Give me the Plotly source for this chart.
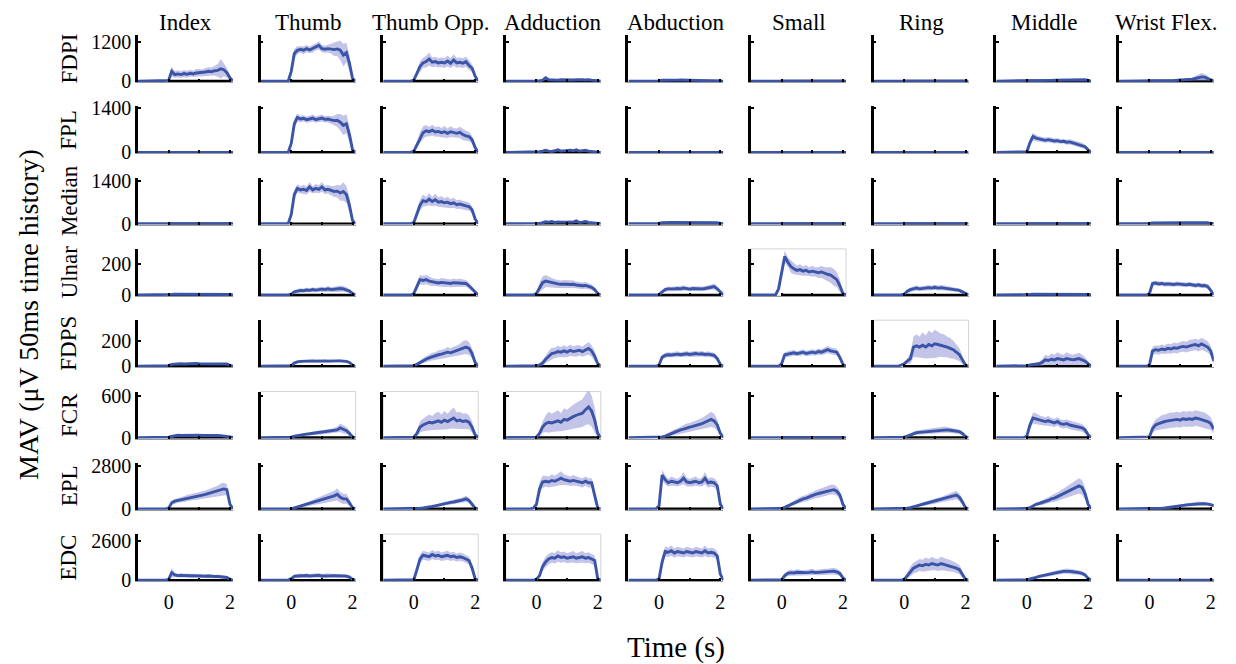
import plotly.graph_objects as go

# ---------------- data ----------------
T = [-1.0, -0.2, -0.1,
     0.0, 0.1, 0.2, 0.3, 0.4, 0.5, 0.6, 0.7, 0.8, 0.9,
     1.0, 1.1, 1.2, 1.3, 1.4, 1.5, 1.6, 1.7, 1.8, 1.9,
     2.0, 2.1]
MOVE_PERIOD = [0, 2]
COLUMNS = ["Index", "Thumb", "Thumb Opp.", "Adduction", "Abduction",
           "Small", "Ring", "Middle", "Wrist Flex."]
ROWS = ["FDPI", "FPL", "Median", "Ulnar", "FDPS", "FCR", "EPL", "EDC"]
Y_TICK = [1200, 1400, 1400, 200, 200, 600, 2800, 2600]
Y_MAX = [1420, 1450, 1500, 300, 360, 660, 3000, 3050]
X_TICKS = [0, 1, 2]
X_TICKTEXT = ["0", "", "2"]
BOXED = [(3, 5), (4, 6), (5, 1), (5, 2), (5, 3), (7, 2), (7, 3)]

FDPI_MEAN = [
    [0,0,0, 20,300,200,220,200,230,210,240,220,250, 260,250,280,300,290,320,330,380,350,260, 100,0],
    [0,0,0, 300,850,950,980,950,1000,960,1000,1050,1100, 1000,980,1000,990,970,990,950,800,880,550, 80,0],
    [0,0,0, 30,250,450,560,600,680,580,600,560,580, 560,620,550,650,560,580,550,600,480,400, 150,0],
    [0,0,0, 0,0,30,100,40,30,40,30,40,35, 40,30,35,40,30,40,35,45,30,25, 10,0],
    [0,0,0, 5,25,30,30,28,30,30,32,30,30, 32,30,30,30,30,32,30,30,28,25, 10,0],
    [0,0,0, 3,10,12,12,13,12,12,13,12,12, 13,12,12,13,12,12,13,12,12,10, 5,0],
    [0,0,0, 3,12,13,12,12,13,12,12,13,12, 12,13,12,12,13,12,12,13,12,10, 5,0],
    [0,0,0, 5,15,15,18,18,20,20,22,22,25, 25,28,28,30,30,32,35,40,45,40, 20,0],
    [0,0,0, 5,15,15,15,18,18,20,20,20,25, 30,25,30,40,60,80,100,130,120,90, 40,0],
]
FDPI_SD = [
    [0,0,0, 10,150,100,110,100,110,100,110,100,120, 110,110,120,130,130,150,200,300,200,150, 60,0],
    [0,0,0, 100,150,120,100,120,110,100,120,110,130, 110,110,120,150,200,220,300,350,300,250, 80,0],
    [0,0,0, 20,100,150,150,180,200,150,150,140,150, 150,170,150,180,150,150,150,160,140,120, 70,0],
    [0,0,0, 0,0,20,60,25,20,20,20,20,20, 20,20,20,20,20,20,20,20,20,15, 10,0],
    [0,0,0, 3,10,10,10,10,10,10,10,10,10, 10,10,10,10,10,10,10,10,10,10, 5,0],
    [0,0,0, 2,5,5,5,5,5,5,5,5,5, 5,5,5,5,5,5,5,5,5,5, 3,0],
    [0,0,0, 2,5,5,5,5,5,5,5,5,5, 5,5,5,5,5,5,5,5,5,5, 3,0],
    [0,0,0, 3,8,8,10,10,10,10,10,12,12, 12,14,14,15,15,18,20,25,30,25, 12,0],
    [0,0,0, 3,8,8,8,10,10,10,10,10,12, 15,12,15,25,50,80,100,120,100,70, 30,0],
]
FPL_MEAN = [
    [0,0,0, 5,15,18,18,18,20,18,20,18,20, 20,20,20,20,20,20,20,20,20,18, 10,0],
    [0,0,0, 280,900,1100,1050,1070,1030,1050,1080,1030,1060, 1080,1040,1050,1020,1000,1010,950,850,900,560, 80,0],
    [0,0,0, 40,250,450,620,680,650,700,640,660,620, 650,600,650,620,600,630,560,520,500,400, 150,0],
    [0,0,0, 5,20,40,70,40,30,50,80,40,50, 40,70,50,80,40,50,70,40,30,25, 10,0],
    [0,0,0, 5,18,20,20,22,20,20,22,20,20, 22,20,20,22,20,20,22,20,20,18, 8,0],
    [0,0,0, 3,10,12,12,13,12,12,13,12,12, 13,12,12,13,12,12,13,12,12,10, 5,0],
    [0,0,0, 3,12,13,12,12,13,12,12,13,12, 12,13,12,12,13,12,12,13,12,10, 5,0],
    [0,0,0, 20,300,500,450,420,400,380,400,380,360, 370,340,350,320,330,300,290,250,220,180, 80,0],
    [0,0,0, 3,8,10,10,10,10,10,10,10,10, 10,10,10,10,10,10,10,10,10,10, 5,0],
]
FPL_SD = [
    [0,0,0, 3,8,8,8,8,8,8,8,8,8, 8,8,8,8,8,8,8,8,8,8, 5,0],
    [0,0,0, 100,150,120,100,100,100,100,110,100,110, 110,100,110,120,150,200,260,300,300,250, 80,0],
    [0,0,0, 20,100,180,200,180,150,170,150,160,150, 180,150,170,150,150,180,170,160,150,120, 60,0],
    [0,0,0, 3,10,20,35,20,15,25,40,20,25, 20,35,25,40,20,25,35,20,15,12, 5,0],
    [0,0,0, 3,8,8,8,8,8,8,8,8,8, 8,8,8,8,8,8,8,8,8,8, 4,0],
    [0,0,0, 2,5,5,5,5,5,5,5,5,5, 5,5,5,5,5,5,5,5,5,5, 3,0],
    [0,0,0, 2,5,5,5,5,5,5,5,5,5, 5,5,5,5,5,5,5,5,5,5, 3,0],
    [0,0,0, 10,80,120,100,90,90,80,80,80,80, 80,70,70,80,80,80,80,90,80,70, 40,0],
    [0,0,0, 2,4,4,4,4,4,4,4,4,4, 4,4,4,4,4,4,4,4,4,4, 2,0],
]
MEDIAN_MEAN = [
    [0,0,0, 5,12,15,15,15,15,15,15,15,15, 15,15,15,15,15,15,15,15,15,15, 8,0],
    [0,0,0, 300,950,1150,1100,1120,1080,1200,1100,1150,1120, 1200,1100,1120,1080,1050,1060,1000,1050,950,600, 100,0],
    [0,0,0, 40,300,600,750,720,800,720,780,700,720, 680,700,650,680,620,640,600,580,560,450, 150,0],
    [0,0,0, 0,10,30,60,50,70,40,60,50,40, 50,60,50,90,40,50,70,40,30,25, 10,0],
    [0,0,0, 5,30,40,40,42,40,40,45,40,42, 40,42,40,45,40,42,40,40,38,30, 10,0],
    [0,0,0, 3,10,12,12,13,12,12,13,12,12, 13,12,12,13,12,12,13,12,12,10, 5,0],
    [0,0,0, 3,12,13,12,12,13,12,12,13,12, 12,13,12,12,13,12,12,13,12,10, 5,0],
    [0,0,0, 5,15,18,18,20,20,20,20,20,20, 20,22,20,20,22,20,20,22,20,18, 10,0],
    [0,0,0, 5,25,28,30,30,30,32,30,30,32, 30,30,32,30,30,32,30,32,30,28, 12,0],
]
MEDIAN_SD = [
    [0,0,0, 3,6,6,6,6,6,6,6,6,6, 6,6,6,6,6,6,6,6,6,6, 4,0],
    [0,0,0, 100,150,130,120,150,130,160,120,140,130, 160,130,140,150,180,200,250,300,280,250, 80,0],
    [0,0,0, 20,120,180,200,150,200,150,200,150,180, 150,180,150,160,140,150,140,140,130,120, 60,0],
    [0,0,0, 0,5,15,30,25,35,20,30,25,20, 25,30,25,45,20,25,35,20,15,12, 5,0],
    [0,0,0, 3,12,12,12,12,12,12,12,12,12, 12,12,12,12,12,12,12,12,12,12, 5,0],
    [0,0,0, 2,5,5,5,5,5,5,5,5,5, 5,5,5,5,5,5,5,5,5,5, 3,0],
    [0,0,0, 2,5,5,5,5,5,5,5,5,5, 5,5,5,5,5,5,5,5,5,5, 3,0],
    [0,0,0, 3,8,8,8,8,8,8,8,8,8, 8,8,8,8,8,8,8,8,8,8, 4,0],
    [0,0,0, 3,10,10,10,10,10,10,10,10,10, 10,10,10,10,10,10,10,10,10,10, 5,0],
]
ULNAR_MEAN = [
    [0,0,0, 2,4,5,5,5,5,5,5,5,5, 5,5,5,5,5,5,5,5,5,5, 3,0],
    [0,0,0, 5,20,25,30,28,32,30,35,32,35, 38,35,40,35,38,40,42,40,35,25, 10,0],
    [0,0,0, 10,60,100,95,100,90,85,80,78,82, 80,78,75,80,78,80,78,75,60,40, 15,0],
    [0,0,0, 10,50,80,90,85,80,75,72,70,72, 70,68,70,65,62,60,62,58,50,35, 10,0],
    [0,0,0, 2,20,35,40,38,40,42,40,45,40, 38,42,40,42,40,42,45,50,55,40, 20,0],
    [0,0,40, 150,250,215,185,170,160,165,155,160,150, 155,150,145,150,140,135,130,115,100,60, 10,0],
    [0,0,0, 5,25,35,40,45,40,42,45,48,45, 50,45,48,45,42,40,38,35,30,20, 8,0],
    [0,0,0, 2,4,5,5,5,6,5,5,6,5, 5,6,5,5,6,5,5,6,5,5, 3,0],
    [0,0,0, 10,75,78,72,75,70,72,70,68,72, 70,68,66,70,65,62,66,60,62,55, 30,0],
]
ULNAR_SD = [
    [0,0,0, 1,2,2,2,2,2,2,2,2,2, 2,2,2,2,2,2,2,2,2,2, 1,0],
    [0,0,0, 3,10,12,14,12,15,14,16,14,16, 18,16,18,16,18,20,20,18,16,12, 5,0],
    [0,0,0, 5,25,30,30,30,28,25,25,25,28, 28,25,25,28,25,25,25,22,20,15, 8,0],
    [0,0,0, 5,30,40,40,35,30,28,26,25,25, 25,24,24,22,22,22,22,20,18,14, 5,0],
    [0,0,0, 2,10,14,15,14,15,15,15,16,15, 14,15,15,15,15,15,16,18,20,15, 8,0],
    [0,0,20, 40,40,30,40,35,30,35,30,35,30, 35,30,35,40,40,45,50,55,50,40, 15,0],
    [0,0,0, 3,12,14,15,16,15,15,16,17,16, 17,16,17,16,15,15,14,13,12,10, 4,0],
    [0,0,0, 1,2,2,2,2,2,2,2,2,2, 2,2,2,2,2,2,2,2,2,2, 1,0],
    [0,0,0, 5,15,15,15,15,15,15,15,15,15, 15,15,15,15,15,15,15,15,15,15, 10,0],
]
FDPS_MEAN = [
    [0,0,0, 5,15,18,20,20,18,20,20,20,22, 20,20,22,20,22,20,22,20,20,18, 8,0],
    [0,0,0, 5,25,35,38,40,38,40,42,40,42, 40,42,40,42,40,42,42,40,38,30, 10,0],
    [0,0,0, 5,15,30,45,55,65,75,80,90,95, 100,110,105,115,120,130,145,150,140,100, 30,0],
    [0,0,0, 5,10,25,55,80,100,105,115,110,120, 110,125,115,120,125,115,130,140,120,80, 20,0],
    [0,0,0, 10,70,85,90,88,92,95,90,95,98, 92,95,100,95,98,92,95,90,85,60, 15,0],
    [0,0,0, 20,90,95,100,105,98,105,110,100,105, 110,105,115,110,120,130,120,115,110,70, 15,0],
    [0,0,10, 20,40,60,150,160,150,165,150,170,160, 175,170,165,160,150,140,130,110,90,50, 10,0],
    [0,0,0, 5,10,12,15,20,30,50,45,55,50, 60,55,50,60,55,50,55,60,50,40, 20,0],
    [0,0,0, 10,120,130,125,135,130,140,135,145,140, 150,155,150,160,165,170,160,175,165,150, 120,40],
]
FDPS_SD = [
    [0,0,0, 3,6,6,6,6,6,6,6,6,6, 6,6,6,6,6,6,6,6,6,6, 4,0],
    [0,0,0, 3,10,10,10,10,10,10,10,10,10, 10,10,10,10,10,10,10,10,10,10, 5,0],
    [0,0,0, 5,10,15,20,25,25,30,30,35,35, 35,40,35,40,40,45,50,55,50,40, 20,0],
    [0,0,0, 5,10,20,30,40,45,40,45,40,45, 40,45,40,45,40,40,45,50,45,40, 20,0],
    [0,0,0, 5,18,20,20,20,22,22,20,22,22, 20,22,22,20,22,20,22,20,20,18, 8,0],
    [0,0,0, 10,20,22,22,22,20,22,24,22,22, 24,22,24,24,26,28,26,26,26,22, 8,0],
    [0,0,5, 10,20,40,80,90,80,100,90,110,100, 110,100,90,90,80,80,70,60,50,30, 10,0],
    [0,0,0, 5,5,8,10,15,25,40,35,45,40, 50,40,40,50,40,40,40,45,40,30, 15,0],
    [0,0,0, 5,30,35,35,35,35,38,38,40,40, 40,42,42,45,45,45,45,48,45,45, 40,20],
]
FCR_MEAN = [
    [0,0,0, 5,15,30,35,30,32,30,35,30,32, 35,30,32,30,32,30,30,28,25,20, 10,0],
    [0,0,0, 5,20,30,40,45,50,55,60,65,70, 75,80,85,90,100,110,140,120,100,60, 10,0],
    [0,0,0, 5,60,150,180,200,220,210,230,240,220, 250,230,260,280,240,250,230,240,220,150, 40,0],
    [0,0,0, 5,60,150,200,220,210,230,240,220,260, 250,280,300,320,330,350,400,440,380,250, 60,0],
    [0,0,0, 5,10,20,40,60,80,90,110,120,140, 150,160,170,190,200,220,240,260,240,180, 60,0],
    [0,0,0, 3,8,10,10,10,10,10,10,10,10, 10,10,10,10,10,10,10,10,10,8, 4,0],
    [0,0,0, 5,20,40,60,70,75,80,85,90,95, 100,105,110,115,110,105,100,95,85,60, 15,0],
    [0,0,0, 20,180,280,270,250,240,230,240,220,210, 230,200,190,200,180,170,160,150,140,110, 40,0],
    [0,0,0, 10,130,180,200,220,230,240,250,250,260, 250,270,260,270,260,280,270,260,250,230, 200,120],
]
FCR_SD = [
    [0,0,0, 3,8,12,15,12,12,12,12,12,12, 12,12,12,12,12,12,12,12,10,8, 5,0],
    [0,0,0, 5,10,15,15,20,20,25,25,25,30, 30,30,35,35,40,45,60,60,50,40, 10,0],
    [0,0,0, 5,40,80,90,100,110,100,120,130,110, 130,110,130,150,120,120,110,110,100,80, 30,0],
    [0,0,0, 5,40,80,120,150,130,140,150,130,160, 150,160,170,180,190,200,220,250,220,180, 50,0],
    [0,0,0, 5,8,15,25,35,40,45,50,55,60, 60,65,70,75,80,90,100,110,100,80, 30,0],
    [0,0,0, 2,4,4,4,4,4,4,4,4,4, 4,4,4,4,4,4,4,4,4,4, 2,0],
    [0,0,0, 5,10,20,25,30,30,32,32,35,35, 38,40,40,42,40,40,38,36,32,25, 8,0],
    [0,0,0, 10,60,80,80,70,70,60,70,60,60, 60,60,60,60,60,60,60,60,55,50, 20,0],
    [0,0,0, 10,60,80,90,100,100,110,110,110,110, 110,110,110,110,110,110,110,110,110,100, 90,60],
]
EPL_MEAN = [
    [0,0,0, 50,400,500,550,600,650,700,750,800,820, 850,900,950,1000,1050,1100,1150,1250,1300,1250, 300,0],
    [0,0,0, 10,60,120,160,200,280,350,420,480,550, 600,650,700,780,850,950,750,650,650,400, 80,0],
    [0,0,0, 20,30,40,60,80,120,160,200,250,300, 350,380,420,450,480,520,580,650,550,300, 50,0],
    [0,0,50, 300,1300,1750,1800,1750,1850,1800,1900,2000,1900, 1850,1800,1850,1800,1750,1700,1800,1700,1700,900, 50,0],
    [0,0,0, 200,2200,1900,1700,1800,1750,1700,1800,2000,1750, 1700,1750,1800,1700,1750,2000,1700,1750,1700,1500, 300,0],
    [0,0,0, 20,100,200,300,400,500,600,650,700,800, 850,950,1000,1050,1150,1200,1250,1250,1150,900, 300,0],
    [0,0,0, 10,40,80,150,200,250,300,350,400,450, 500,550,600,650,700,780,850,900,750,450, 80,0],
    [0,0,0, 20,80,200,300,350,400,500,550,650,700, 800,900,1000,1100,1200,1300,1400,1500,1400,1000, 300,0],
    [0,0,0, 10,20,25,30,40,60,80,100,130,160, 200,230,260,280,300,320,350,330,340,320, 280,200],
]
EPL_SD = [
    [0,0,0, 30,150,150,150,180,180,200,200,220,220, 220,250,250,280,300,330,350,400,400,350, 150,0],
    [0,0,0, 10,40,60,80,100,120,150,180,200,220, 230,250,270,300,330,400,350,330,320,250, 60,0],
    [0,0,0, 20,30,30,40,50,60,70,80,90,100, 110,120,130,140,150,160,180,200,180,120, 40,0],
    [0,0,30, 150,400,400,350,350,400,350,400,450,350, 350,300,350,300,300,300,300,300,300,400, 50,0],
    [0,0,0, 100,350,300,250,300,250,250,300,400,300, 250,300,300,250,300,400,300,300,300,300, 100,0],
    [0,0,0, 20,50,80,100,120,150,180,200,200,220, 230,250,270,280,300,300,320,320,300,250, 100,0],
    [0,0,0, 10,30,40,60,80,100,110,120,130,150, 160,170,180,200,220,240,260,280,250,200, 50,0],
    [0,0,0, 20,50,80,100,120,150,180,200,220,250, 280,300,330,360,400,430,460,500,480,400, 150,0],
    [0,0,0, 10,15,20,25,30,40,50,60,70,80, 90,100,100,110,110,120,130,120,120,110, 100,80],
]
EDC_MEAN = [
    [0,0,0, 50,500,350,300,320,300,310,290,300,280, 290,270,260,280,250,240,250,220,200,180, 60,0],
    [0,0,20, 100,250,280,300,270,310,280,300,290,320, 280,300,310,290,300,280,290,280,270,200, 50,0],
    [0,0,0, 30,700,1400,1650,1600,1550,1700,1600,1650,1550, 1600,1650,1550,1600,1500,1550,1500,1400,1300,800, 100,0],
    [0,0,0, 50,300,900,1200,1400,1500,1450,1600,1500,1550, 1450,1500,1550,1450,1500,1550,1450,1500,1400,1300, 100,0],
    [0,0,0, 100,1200,1900,1850,1950,1800,1900,1850,1800,1900, 1850,1800,1900,1850,1800,1950,1800,1850,1800,1600, 400,0],
    [0,0,0, 20,300,450,500,480,520,500,480,500,520, 550,500,520,540,560,550,580,600,550,450, 150,0],
    [0,0,0, 50,300,600,800,900,1000,950,1050,1000,1100, 1050,1000,1100,1050,1000,950,900,800,700,400, 50,0],
    [0,0,0, 20,80,120,180,250,300,350,400,450,480, 500,550,580,600,580,560,550,500,450,350, 120,0],
    [0,0,0, 5,25,30,30,28,30,32,30,30,32, 30,30,32,30,30,32,30,30,28,25, 10,0],
]
EDC_SD = [
    [0,0,0, 30,300,150,120,150,130,140,130,140,120, 130,120,120,130,120,110,120,110,100,90, 40,0],
    [0,0,10, 50,120,130,140,130,150,130,140,130,150, 130,140,150,130,140,130,130,130,120,100, 30,0],
    [0,0,0, 20,250,300,300,300,280,300,280,300,280, 300,300,280,280,270,280,270,260,250,250, 60,0],
    [0,0,0, 30,150,300,350,350,350,350,380,350,350, 330,350,380,330,350,380,330,350,330,330, 60,0],
    [0,0,0, 50,400,350,300,350,300,320,300,300,320, 300,300,320,300,300,350,300,300,300,300, 150,0],
    [0,0,0, 20,150,180,200,180,200,180,180,180,200, 200,180,200,200,200,200,220,220,200,180, 80,0],
    [0,0,0, 30,200,300,350,400,400,400,450,400,450, 400,400,450,400,400,380,350,330,300,200, 30,0],
    [0,0,0, 10,40,60,80,100,110,120,130,140,150, 150,160,160,170,160,160,150,150,140,120, 50,0],
    [0,0,0, 3,10,10,10,10,10,10,10,10,10, 10,10,10,10,10,10,10,10,10,10, 5,0],
]

MEANS = [FDPI_MEAN, FPL_MEAN, MEDIAN_MEAN, ULNAR_MEAN, FDPS_MEAN, FCR_MEAN, EPL_MEAN, EDC_MEAN]
SDS = [FDPI_SD, FPL_SD, MEDIAN_SD, ULNAR_SD, FDPS_SD, FCR_SD, EPL_SD, EDC_SD]

# ---------------- layout geometry (page pixels) ----------------
PAGE_OFF = 8                      # default body margin of the html page
W, H = 1236 - 2 * PAGE_OFF, 664 - PAGE_OFF
COL_LEFT0, COL_STEP, PANEL_W = 138, 122.6, 95
ROW_BASE0, ROW_STEP, PANEL_H = 82, 71.3, 47


def px_x(p):
    return (p - PAGE_OFF) / W


def px_y(p):
    return 1 - (p - PAGE_OFF) / H


LINE_COLOR = "#3a55a8"
BAND_COLOR = "rgba(125,125,205,0.45)"
FONT = "Liberation Serif, Times New Roman, serif"

fig = go.Figure()
layout = {}
shapes = []
annotations = []

for r in range(len(ROWS)):
    base = ROW_BASE0 + ROW_STEP * r
    top = base - PANEL_H
    ydom = [px_y(base), px_y(top)]
    ymax = Y_MAX[r]
    for c in range(len(COLUMNS)):
        k = r * len(COLUMNS) + c + 1
        xs = "x" if k == 1 else f"x{k}"
        ys = "y" if k == 1 else f"y{k}"
        left = COL_LEFT0 + COL_STEP * c
        xdom = [px_x(left), px_x(left + PANEL_W)]
        m = MEANS[r][c]
        s = SDS[r][c]
        assert len(m) == len(T) and len(s) == len(T), (r, c)
        upper = [a + b for a, b in zip(m, s)]
        lower = [a - b for a, b in zip(m, s)]
        fig.add_trace(go.Scatter(x=MOVE_PERIOD, y=[0, 0], mode="lines",
                                 line=dict(color="black", width=2.6),
                                 xaxis=xs, yaxis=ys, hoverinfo="skip", showlegend=False))
        fig.add_trace(go.Scatter(x=T, y=upper, mode="lines", line=dict(width=0),
                                 xaxis=xs, yaxis=ys, hoverinfo="skip", showlegend=False))
        fig.add_trace(go.Scatter(x=T, y=lower, mode="lines", line=dict(width=0),
                                 fill="tonexty", fillcolor=BAND_COLOR,
                                 xaxis=xs, yaxis=ys, hoverinfo="skip", showlegend=False))
        fig.add_trace(go.Scatter(x=T, y=m, mode="lines",
                                 line=dict(color=LINE_COLOR, width=2.9),
                                 xaxis=xs, yaxis=ys, showlegend=False))
        xkey = "xaxis" if k == 1 else f"xaxis{k}"
        ykey = "yaxis" if k == 1 else f"yaxis{k}"
        bottom = (r == len(ROWS) - 1)
        layout[xkey] = dict(domain=xdom, anchor=ys, range=[-1, 2.1],
                            showline=True, linecolor="#9a9a9a", linewidth=1,
                            showgrid=False, zeroline=False, automargin=False,
                            ticks="inside", ticklen=3, tickwidth=1.5, tickcolor="black",
                            tickvals=X_TICKS, ticktext=X_TICKTEXT,
                            showticklabels=bottom, ticklabelstandoff=3,
                            tickfont=dict(family=FONT, size=20, color="black"))
        layout[ykey] = dict(domain=ydom, anchor=xs, range=[-0.02 * ymax, ymax],
                            showline=True, linecolor="black", linewidth=2.6,
                            showgrid=False, zeroline=False, automargin=False,
                            ticks="inside", ticklen=3, tickwidth=2, tickcolor="black",
                            tickvals=[0, Y_TICK[r]], ticktext=["0", str(Y_TICK[r])],
                            showticklabels=(c == 0), ticklabelstandoff=0,
                            tickfont=dict(family=FONT, size=20, color="black"))
        if (r, c) in BOXED:
            shapes.append(dict(type="rect", xref=f"{xs} domain", yref=f"{ys} domain",
                               x0=0, x1=1, y0=0, y1=1, layer="below",
                               line=dict(color="#d4d4d4", width=1)))
    annotations.append(dict(text=ROWS[r], x=px_x(69), y=px_y(base - PANEL_H / 2),
                            xref="paper", yref="paper", showarrow=False, textangle=-90,
                            xanchor="center", yanchor="middle",
                            font=dict(family=FONT, size=23, color="black")))

for c, name in enumerate(COLUMNS):
    left = COL_LEFT0 + COL_STEP * c
    annotations.append(dict(text=name, x=px_x(left + PANEL_W / 2), y=px_y(22),
                            xref="paper", yref="paper", showarrow=False,
                            xanchor="center", yanchor="middle",
                            font=dict(family=FONT, size=23, color="black")))

annotations.append(dict(text="MAV (\u03bcV 50ms time history)", x=px_x(28), y=px_y(315),
                        xref="paper", yref="paper", showarrow=False, textangle=-90,
                        xanchor="center", yanchor="middle",
                        font=dict(family=FONT, size=28, color="black")))
annotations.append(dict(text="Time (s)", x=px_x(676), y=px_y(647),
                        xref="paper", yref="paper", showarrow=False,
                        xanchor="center", yanchor="middle",
                        font=dict(family=FONT, size=29, color="black")))

fig.update_layout(width=W, height=H,
                  margin=dict(l=0, r=0, t=0, b=0, pad=0, autoexpand=False),
                  paper_bgcolor="white", plot_bgcolor="white",
                  showlegend=False, shapes=shapes, annotations=annotations,
                  font=dict(family=FONT, color="black"), **layout)

fig.write_html("out.html")
